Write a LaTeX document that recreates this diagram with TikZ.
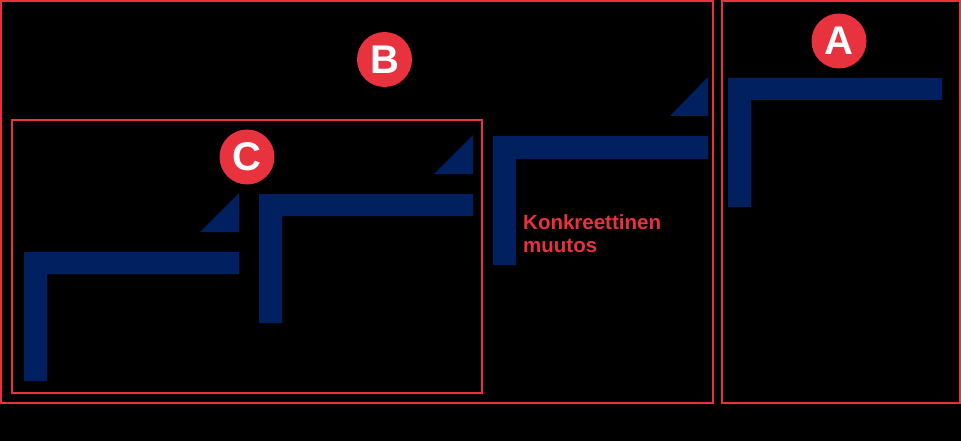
\documentclass[tikz,border=0pt]{standalone}
\usepackage{fontspec}
\setmainfont{Liberation Sans}
\definecolor{myred}{RGB}{232,50,62}
\definecolor{navy}{RGB}{0,32,96}
\tikzset{
  frame/.style={draw=myred, line width=2pt},
  stair/.style={fill=navy, draw=none},
  badge/.style={circle, fill=myred, minimum size=55pt, inner sep=0pt, text=white, font=\fontsize{40}{40}\selectfont\bfseries},
  lbl/.style={text=myred, font=\fontsize{20.5}{23}\selectfont\bfseries, align=left, anchor=north west, inner sep=0pt}
}
\begin{document}
\begin{tikzpicture}[x=1pt,y=-1pt]
\fill[black] (0,0) rectangle (961,441);
\useasboundingbox (0,0) rectangle (961,441);
% frames
\draw[frame] (1,1) rectangle (713,403);
\draw[frame] (722,1) rectangle (960,403);
\draw[frame] (12,120) rectangle (482,393);
% stairs
\fill[stair] (24,252) -- (239,252) -- (239,274) -- (47,274) -- (47,381) -- (24,381) -- cycle;
\fill[stair] (200,232) -- (239,232) -- (239,193) -- cycle;
\fill[stair] (259,194) -- (473,194) -- (473,216) -- (282,216) -- (282,323) -- (259,323) -- cycle;
\fill[stair] (434,174) -- (473,174) -- (473,135) -- cycle;
\fill[stair] (493,136) -- (708,136) -- (708,159) -- (516,159) -- (516,265) -- (493,265) -- cycle;
\fill[stair] (670,116) -- (708,116) -- (708,77) -- cycle;
\fill[stair] (728,78) -- (942,78) -- (942,100) -- (751,100) -- (751,207) -- (728,207) -- cycle;
% badges
\node[badge] (A) at (839,41) {A};
\node[badge] (B) at (384.5,59.5) {B};
\node[badge] (C) at (247,157) {C};
% label
\node[lbl] (K) at (523,214) {Konkreettinen\\muutos};
\end{tikzpicture}
\end{document}
